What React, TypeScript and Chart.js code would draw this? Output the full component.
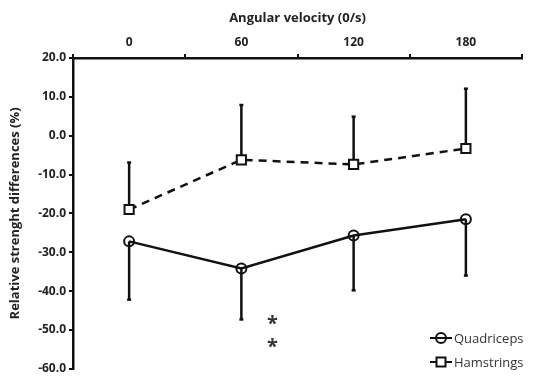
import React, { useEffect, useRef } from "react";
import { Chart, registerables } from "chart.js";

Chart.register(...registerables);

const velocities = ["0", "60", "120", "180"];
const quadMeans = [-27.2, -34.2, -25.7, -21.5];
const quadLower = [-42.2, -47.3, -39.8, -36.0];
const hamMeans = [-19.0, -6.2, -7.4, -3.3];
const hamUpper = [-6.9, 7.9, 4.9, 12.1];
const sigCategory = "60";
const sigMarkValues = [-47.6, -53.4];
const yTitle = "Relative strenght differences (%)";
const xTitle = "Angular velocity (0/s)";
const seriesNames = ["Quadriceps", "Hamstrings"];

const INK = "#111";
const FONT = "'Open Sans', 'DejaVu Sans', sans-serif";

const overlayPlugin = {
  id: "overlay",
  beforeDatasetsDraw(chart: any) {
    const { ctx, scales } = chart;
    const x = scales.x;
    const y = scales.y;
    ctx.save();
    ctx.strokeStyle = INK;
    ctx.lineWidth = 2.5;
    const drawBar = (i: number, from: number, to: number) => {
      const px = x.getPixelForValue(i);
      const y1 = y.getPixelForValue(from);
      const y2 = y.getPixelForValue(to);
      ctx.beginPath();
      ctx.moveTo(px, y1);
      ctx.lineTo(px, y2);
      ctx.stroke();
      ctx.beginPath();
      ctx.moveTo(px - 2, y2);
      ctx.lineTo(px + 2, y2);
      ctx.stroke();
    };
    quadMeans.forEach((m, i) => drawBar(i, m, quadLower[i]));
    hamMeans.forEach((m, i) => drawBar(i, m, hamUpper[i]));
    ctx.restore();
  },
  afterDatasetsDraw(chart: any) {
    const { ctx, scales } = chart;
    const x = scales.x;
    const y = scales.y;
    ctx.save();
    // significance asterisks
    const sx = x.getPixelForValue(velocities.indexOf(sigCategory)) + 31;
    ctx.fillStyle = "#333";
    ctx.font = `bold 20px ${FONT}`;
    ctx.textAlign = "center";
    ctx.textBaseline = "middle";
    sigMarkValues.forEach((v) => {
      ctx.fillText("*", sx, y.getPixelForValue(v) + 4);
    });
    // legend
    const lx = 430;
    const rows = [338, 362];
    ctx.font = `13px ${FONT}`;
    ctx.textAlign = "left";
    seriesNames.forEach((name, k) => {
      const ly = rows[k];
      ctx.strokeStyle = INK;
      ctx.lineWidth = 2;
      ctx.setLineDash([]);
      ctx.beginPath();
      ctx.moveTo(lx, ly);
      ctx.lineTo(lx + 22, ly);
      ctx.stroke();
      if (k === 0) {
        ctx.beginPath();
        ctx.arc(lx + 11, ly, 5, 0, Math.PI * 2);
        ctx.stroke();
      } else {
        ctx.fillStyle = "#fff";
        ctx.fillRect(lx + 6.5, ly - 4.5, 9, 9);
        ctx.strokeRect(lx + 6.5, ly - 4.5, 9, 9);
      }
      ctx.fillStyle = "#333";
      ctx.fillText(name, lx + 24, ly + 1);
    });
    ctx.restore();
  },
};

export default function App() {
  const ref = useRef<HTMLCanvasElement | null>(null);
  useEffect(() => {
    if (!ref.current) return;
    const chart = new Chart(ref.current, {
      type: "line",
      data: {
        labels: velocities,
        datasets: [
          {
            label: seriesNames[0],
            data: quadMeans,
            borderColor: INK,
            borderWidth: 2.5,
            pointStyle: "circle",
            pointRadius: 5,
            pointBorderWidth: 2,
            pointBorderColor: INK,
            pointBackgroundColor: "rgba(0,0,0,0)",
            tension: 0,
          },
          {
            label: seriesNames[1],
            data: hamMeans,
            borderColor: INK,
            borderWidth: 2.5,
            borderDash: [8, 6],
            pointStyle: "rect",
            pointRadius: 6.5,
            pointBorderWidth: 2,
            pointBorderColor: INK,
            pointBackgroundColor: "#fff",
            tension: 0,
          },
        ],
      },
      options: {
        animation: false,
        responsive: false,
        devicePixelRatio: 1,
        layout: { padding: { left: 0, top: 0, right: 30, bottom: 6 } },
        plugins: { legend: { display: false }, tooltip: { enabled: false } },
        scales: {
          x: {
            type: "category",
            position: "top",
            offset: true,
            grid: {
              display: true,
              drawOnChartArea: false,
              drawTicks: true,
              tickLength: 4,
              color: INK,
              lineWidth: 2,
              offset: true,
            },
            border: { display: true, color: INK, width: 2.5 },
            ticks: {
              color: "#222",
              font: { family: FONT, size: 12, weight: "bold" },
              padding: 4,
            },
            title: {
              display: true,
              text: xTitle,
              color: "#222",
              font: { family: FONT, size: 13, weight: "bold" },
              padding: { top: 10, bottom: 0 },
            },
            afterFit: (s: any) => {
              s.height = 58;
            },
          },
          y: {
            min: -60,
            max: 20,
            grid: {
              display: true,
              drawOnChartArea: false,
              drawTicks: true,
              tickLength: 4,
              color: INK,
              lineWidth: 2,
            },
            border: { display: true, color: INK, width: 2.5 },
            ticks: {
              stepSize: 10,
              color: "#222",
              font: { family: FONT, size: 12, weight: "bold" },
              padding: 3,
              callback: (v: any) => Number(v).toFixed(1),
            },
            title: {
              display: true,
              text: yTitle,
              color: "#222",
              font: { family: FONT, size: 13, weight: "bold" },
              padding: { top: 7, bottom: 0 },
            },
            afterFit: (s: any) => {
              s.width = 73;
            },
          },
        },
      },
      plugins: [overlayPlugin],
    });
    return () => chart.destroy();
  }, []);
  return (
    <div style={{ position: "fixed", left: 0, top: 0, width: 552, height: 379, background: "#fff" }}>
      <canvas ref={ref} width={552} height={379} />
    </div>
  );
}
